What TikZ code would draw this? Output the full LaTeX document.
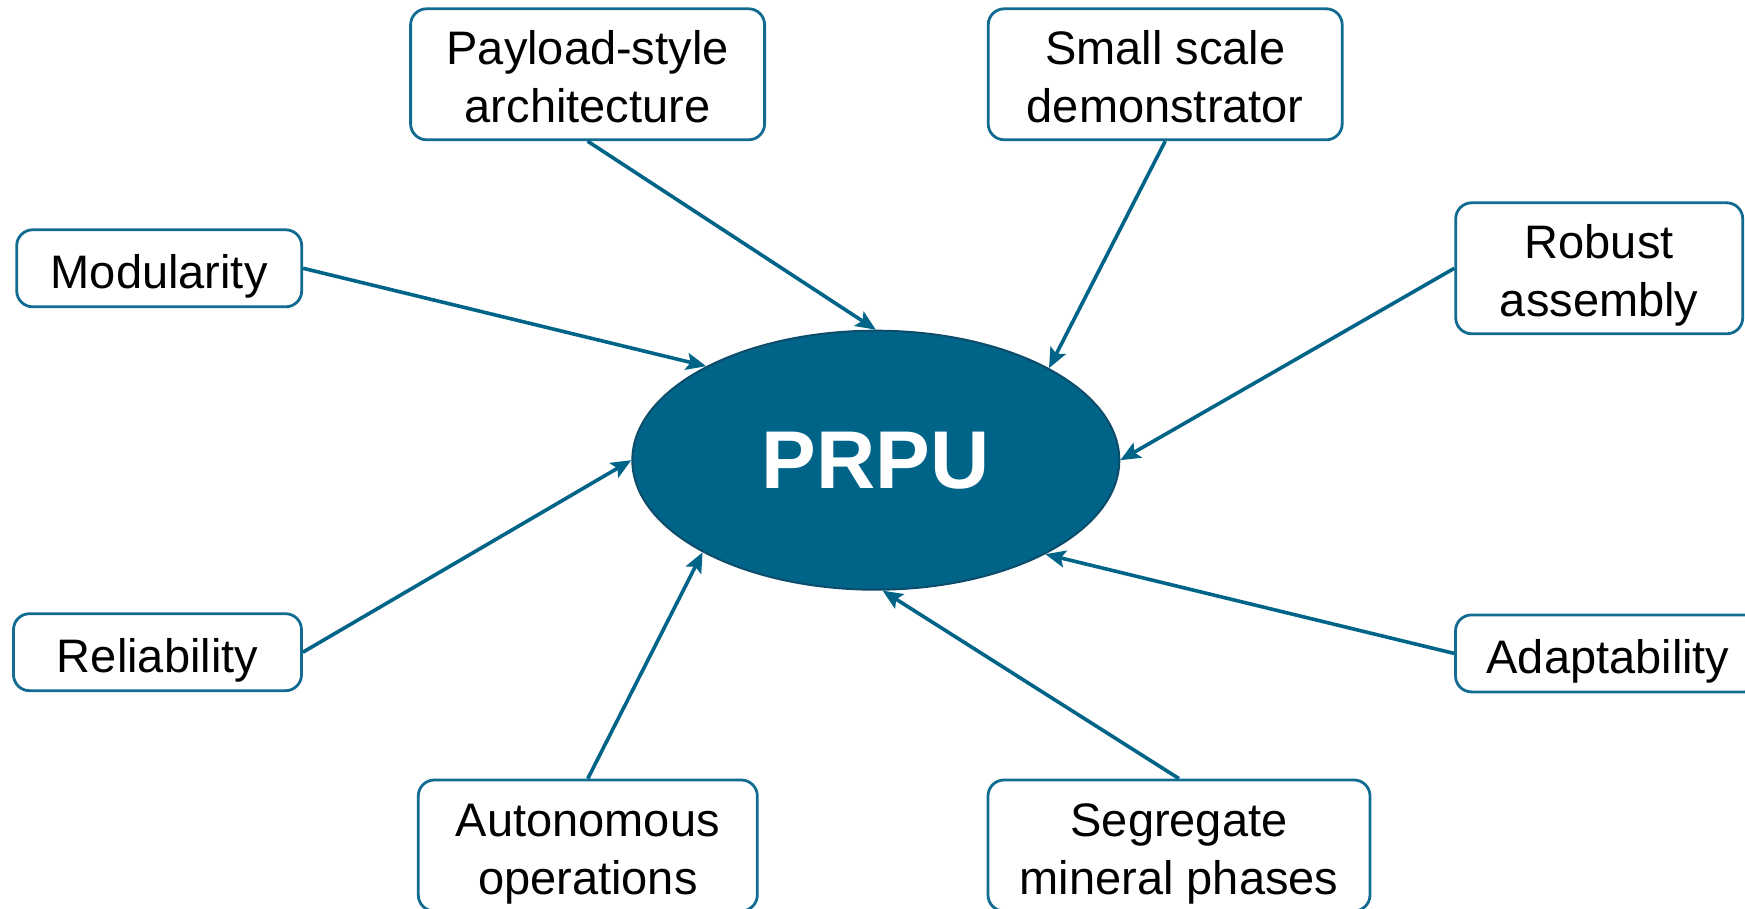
\documentclass[tikz,border=0pt]{standalone}
\usepackage{fontspec}
\setmainfont{Liberation Sans}
\usetikzlibrary{shapes.geometric,arrows.meta}
\definecolor{prpublue}{RGB}{0,100,137}
\definecolor{prpuedge}{RGB}{12,76,106}
\definecolor{boxedge}{RGB}{18,108,145}

\begin{document}
\begin{tikzpicture}[x=1pt,y=-1pt,
  feature/.style={draw=boxedge, line width=2.8pt, rounded corners=16pt, fill=white,
    align=center, inner sep=0pt, text height=40pt, text depth=0pt,
    font=\fontsize{47}{58}\selectfont, text=black},
  twoline/.style={feature, text height=97pt},
  link/.style={draw=prpublue, line width=3.6pt,
    -{Stealth[length=20pt,width=17pt,inset=4pt]}},
  hub/.style={ellipse, fill=prpublue, draw=prpuedge, line width=2pt,
    minimum width=487pt, minimum height=259pt, inner sep=0pt, text=white,
    font=\fontsize{82}{90}\selectfont\bfseries}
]
\useasboundingbox (0,0) rectangle (1745,909);

% central unit
\node[hub] (prpu) at (875.8,460.2) {PRPU};

% surrounding features
\node[twoline, minimum width=354pt, minimum height=131pt] (payload) at (587.6,74.3)
  {Payload-style\\architecture};
\node[twoline, minimum width=354pt, minimum height=131pt] (demo) at (1165.2,74.3)
  {Small scale\\demonstrator};
\node[feature, minimum width=285pt, minimum height=77pt] (modular) at (159.2,268.3)
  {Modularity};
\node[twoline, minimum width=287pt, minimum height=131pt] (robust) at (1599.2,268.3)
  {Robust\\assembly};
\node[feature, minimum width=288pt, minimum height=77pt] (reliab) at (157.5,652.2)
  {Reliability};
\node[feature, minimum width=305pt, minimum height=77pt] (adapt) at (1608,653.4)
  {Adaptability};
\node[twoline, minimum width=339pt, minimum height=131pt] (auto) at (587.8,845.5)
  {Autonomous\\operations};
\node[twoline, minimum width=382pt, minimum height=131pt] (segr) at (1179,845.5)
  {Segregate\\mineral phases};

% connectors into the unit
\draw[link] (payload.south) -- (prpu.north);
\draw[link] (demo.south) -- (prpu.28.1);
\draw[link] (modular.east) -- (prpu.151.7);
\draw[link] (robust.west) -- (prpu.east);
\draw[link] (reliab.east) -- (prpu.west);
\draw[link] (adapt.west) -- (prpu.331.9);
\draw[link] (auto.north) -- (prpu.208.5);
\draw[link] (segr.north) -- (prpu.-87.6);
\end{tikzpicture}
\end{document}
